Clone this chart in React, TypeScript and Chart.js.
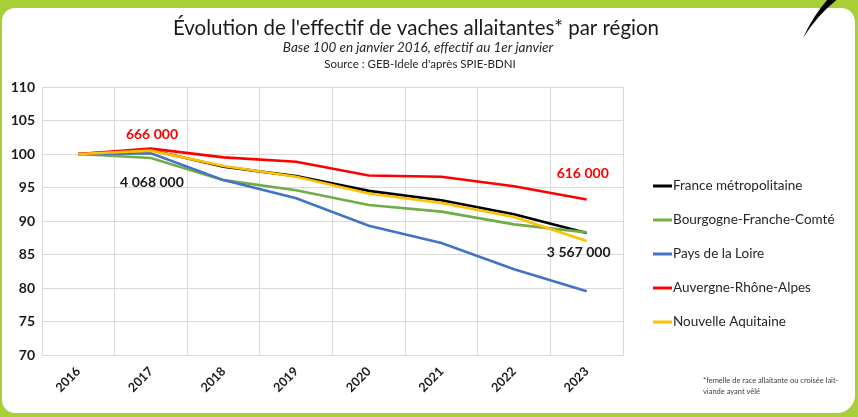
import React, { useEffect, useRef } from "react";
import { Chart, registerables } from "chart.js";

Chart.register(...registerables);

const years = ["2016", "2017", "2018", "2019", "2020", "2021", "2022", "2023"];
const franceMetro = [100, 100.6, 98.1, 96.7, 94.5, 93.1, 91.0, 88.2];
const bourgogneFC = [100, 99.4, 96.1, 94.6, 92.4, 91.4, 89.5, 88.3];
const paysLoire = [100, 100.1, 96.1, 93.4, 89.3, 86.7, 82.8, 79.5];
const auvergneRA = [100, 100.8, 99.5, 98.85, 96.8, 96.6, 95.2, 93.2];
const nouvelleAq = [100, 100.5, 98.2, 96.6, 94.1, 92.7, 90.6, 87.0];

const seriesNames = [
  "France métropolitaine",
  "Bourgogne-Franche-Comté",
  "Pays de la Loire",
  "Auvergne-Rhône-Alpes",
  "Nouvelle Aquitaine",
];
const seriesValues = [franceMetro, bourgogneFC, paysLoire, auvergneRA, nouvelleAq];
const seriesColors = ["#000000", "#70ad47", "#4472c4", "#ff0000", "#ffc000"];

const yMin = 70;
const yMax = 110;
const yStep = 5;

const titleText = "Évolution de l'effectif de vaches allaitantes* par région";
const subtitleText = "Base 100 en janvier 2016, effectif au 1er janvier";
const sourceText = "Source : GEB-Idele d'après SPIE-BDNI";
const footnoteLines = ["*femelle de race allaitante ou croisée lait-", "viande ayant vêlé"];

// annotation labels: text, series index, point index
const annotTexts = ["666 000", "4 068 000", "616 000", "3 567 000"];
const annotSeries = [3, 0, 3, 0];
const annotPoints = [1, 1, 7, 7];

const FONT = "Lato, 'Open Sans', sans-serif";
const GREEN = "#a8cf38";

const decorPlugin = {
  id: "decor",
  beforeDraw(chart: any) {
    const ctx = chart.ctx;
    const w = chart.width;
    const h = chart.height;
    ctx.save();
    ctx.fillStyle = GREEN;
    ctx.fillRect(0, 0, w, h);
    ctx.fillStyle = "#ffffff";
    ctx.beginPath();
    (ctx as any).roundRect(2, 8, w - 5, h - 12, [13, 14, 18, 13]);
    ctx.fill();
    ctx.restore();
  },
  afterDraw(chart: any) {
    const ctx = chart.ctx;
    const ca = chart.chartArea;
    const xs = chart.scales.x;
    const ys = chart.scales.y;
    ctx.save();
    // header
    ctx.textAlign = "center";
    ctx.textBaseline = "middle";
    ctx.fillStyle = "#1a1a1a";
    ctx.font = `20.5px ${FONT}`;
    ctx.fillText(titleText, 416, 28);
    ctx.font = `italic 13.5px ${FONT}`;
    ctx.fillStyle = "#262626";
    ctx.fillText(subtitleText, 418, 48);
    ctx.font = `11.5px ${FONT}`;
    ctx.fillText(sourceText, 420, 64);

    // annotations
    const offs = [
      [1, -14],
      [1, 33],
      [-4, -26],
      [-8, 19],
    ];
    ctx.font = `bold 14px ${FONT}`;
    annotTexts.forEach((t, i) => {
      const s = annotSeries[i];
      const p = annotPoints[i];
      const x = xs.getPixelForValue(p) + offs[i][0];
      const y = ys.getPixelForValue(seriesValues[s][p]) + offs[i][1];
      ctx.fillStyle = seriesColors[s] === "#000000" ? "#1a1a1a" : seriesColors[s];
      ctx.fillText(t, x, y);
    });

    // legend
    ctx.textAlign = "left";
    ctx.font = `13.5px ${FONT}`;
    const lx = ca.right + 30;
    seriesNames.forEach((n, i) => {
      const y = ca.top + 99 + i * 34;
      ctx.strokeStyle = seriesColors[i];
      ctx.lineWidth = 3;
      ctx.beginPath();
      ctx.moveTo(lx, y);
      ctx.lineTo(lx + 19, y);
      ctx.stroke();
      ctx.fillStyle = "#262626";
      ctx.fillText(n, lx + 20, y);
    });

    // footnote
    ctx.font = `7.5px ${FONT}`;
    ctx.fillStyle = "#404040";
    footnoteLines.forEach((l, i) => ctx.fillText(l, 703, 381 + i * 11));

    // swoosh
    ctx.fillStyle = "#000000";
    ctx.beginPath();
    ctx.moveTo(829, -2);
    ctx.lineTo(839, -2);
    ctx.quadraticCurveTo(818, 14, 803, 38);
    ctx.quadraticCurveTo(814, 14, 829, -2);
    ctx.fill();
    ctx.restore();
  },
};

export default function App() {
  const ref = useRef<HTMLCanvasElement | null>(null);
  useEffect(() => {
    if (!ref.current) return;
    const order = [4, 3, 2, 1, 0];
    const chart = new Chart(ref.current, {
      type: "line",
      data: {
        labels: years,
        datasets: seriesValues.map((vals, i) => ({
          label: seriesNames[i],
          data: vals,
          borderColor: seriesColors[i],
          backgroundColor: seriesColors[i],
          borderWidth: 2.6,
          pointRadius: 0,
          tension: 0,
          order: order[i],
        })),
      },
      options: {
        responsive: false,
        animation: false,
        layout: { padding: { top: 87, right: 235, left: 0, bottom: 0 } },
        plugins: {
          legend: { display: false },
          title: { display: false },
          tooltip: { enabled: false },
        },
        scales: {
          x: {
            offset: true,
            grid: { offset: true, color: "#d9d9d9", drawTicks: false, lineWidth: 1 },
            border: { color: "#d9d9d9" },
            ticks: {
              minRotation: 45,
              maxRotation: 45,
              padding: 9,
              color: "#1a1a1a",
              font: { family: FONT, size: 12.5, weight: "bold" },
            },
            afterFit(scale: any) {
              scale.height = 62;
            },
          },
          y: {
            min: yMin,
            max: yMax,
            grid: { color: "#d9d9d9", drawTicks: false, lineWidth: 1 },
            border: { color: "#d9d9d9" },
            ticks: {
              stepSize: yStep,
              padding: 7,
              color: "#1a1a1a",
              font: { family: FONT, size: 14, weight: "bold" },
            },
            afterFit(scale: any) {
              scale.width = 42;
            },
          },
        },
      },
      plugins: [decorPlugin],
    });
    return () => chart.destroy();
  }, []);
  return (
    <div style={{ position: "absolute", left: 0, top: 0, width: 858, height: 417 }}>
      <canvas ref={ref} width={858} height={417} style={{ display: "block" }} />
    </div>
  );
}
